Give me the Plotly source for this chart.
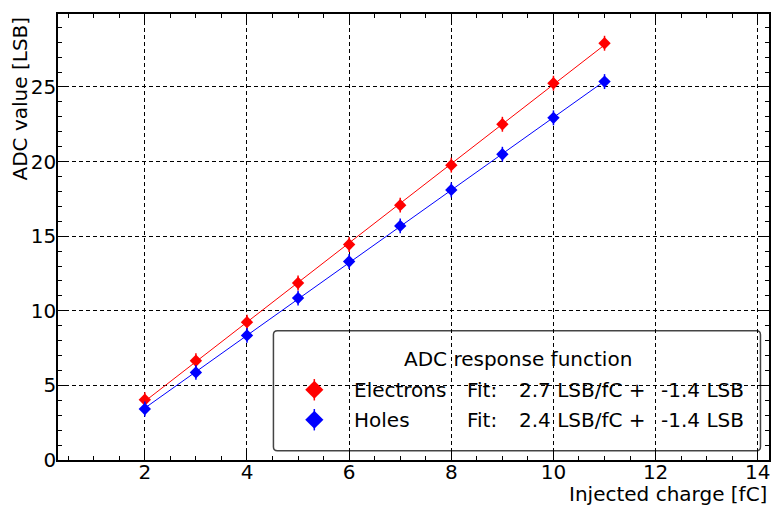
import numpy as np
import plotly.graph_objects as go

# Injected charge (fC) and measured ADC response (LSB)
charge = [2, 3, 4, 5, 6, 7, 8, 9, 10, 11]
adc_electrons = [4.04, 6.65, 9.24, 11.86, 14.44, 17.08, 19.76, 22.50, 25.25, 27.93]
adc_holes = [3.42, 5.87, 8.35, 10.85, 13.30, 15.69, 18.10, 20.49, 22.93, 25.36]
adc_err = [0.5] * len(charge)

series_names = ["Electrons", "Holes"]
series_colors = ["#ff0000", "#0000ff"]
series_values = [adc_electrons, adc_holes]

x_ticks = [2, 4, 6, 8, 10, 12, 14]
y_ticks = [0, 5, 10, 15, 20, 25]

FONT = "DejaVu Sans"
FS = 20
W, H = 774, 505
M = dict(l=58, r=3, t=14, b=45)

fig = go.Figure()

fits = []
xs = np.array(charge, dtype=float)
for name, color, vals in zip(series_names, series_colors, series_values):
    slope, intercept = np.polyfit(xs, np.array(vals), 1)
    fits.append((slope, intercept))
    xf = np.array([xs.min(), xs.max()])
    fig.add_trace(go.Scatter(
        x=xf, y=slope * xf + intercept, mode="lines",
        line=dict(color=color, width=1), showlegend=False, hoverinfo="skip",
    ))
    fig.add_trace(go.Scatter(
        x=charge, y=vals, mode="markers", name=name,
        marker=dict(symbol="diamond", size=9.5, color=color, line=dict(width=0)),
        error_y=dict(type="data", array=adc_err, color=color, thickness=1.5, width=0),
        showlegend=False,
    ))

# Legend box drawn in plot-area (paper) coordinates, above the grid, below the traces
pw = W - M["l"] - M["r"]
ph = H - M["t"] - M["b"]
bx0, bx1, by0, by1 = 0.303, 0.988, 0.021, 0.290
rx, ry = 4 / pw, 4 / ph
box_path = (
    f"M {bx0+rx},{by1} L {bx1-rx},{by1} Q {bx1},{by1} {bx1},{by1-ry} "
    f"L {bx1},{by0+ry} Q {bx1},{by0} {bx1-rx},{by0} "
    f"L {bx0+rx},{by0} Q {bx0},{by0} {bx0},{by0+ry} "
    f"L {bx0},{by1-ry} Q {bx0},{by1} {bx0+rx},{by1} Z"
)
fig.add_shape(type="path", path=box_path, xref="paper", yref="paper",
              line=dict(color="#444444", width=1.5), fillcolor="white", layer="between")

row_y = [0.1575, 0.0903]
key_x = 0.3605
for (name, color), y, (slope, intercept) in zip(zip(series_names, series_colors), row_y, fits):
    fig.add_trace(go.Scatter(
        x=[key_x], y=[y], xaxis="x2", yaxis="y2", mode="markers",
        marker=dict(symbol="diamond", size=14, color=color, line=dict(width=0)),
        error_y=dict(type="constant", value=0.024, color=color, thickness=1.5, width=0),
        showlegend=False, hoverinfo="skip",
    ))
    for xt, txt in [(0.4133, name), (0.573, "Fit:"),
                    (0.6453, f"{slope:.1f} LSB/fC +"), (0.8455, f"{intercept:.1f} LSB")]:
        fig.add_annotation(x=xt, y=y, xref="paper", yref="paper", text=txt,
                           showarrow=False, xanchor="left", yanchor="middle",
                           font=dict(family=FONT, size=FS, color="black"))

fig.add_annotation(x=0.6463, y=0.227, xref="paper", yref="paper",
                   text="ADC response function", showarrow=False,
                   xanchor="center", yanchor="middle",
                   font=dict(family=FONT, size=FS, color="black"))

# Axis titles placed at the axis ends
fig.add_annotation(x=-0.0528, y=1, xref="paper", yref="paper", text="ADC value [LSB]",
                   textangle=-90, showarrow=False, xanchor="center", yanchor="top",
                   font=dict(family=FONT, size=FS, color="black"))
fig.add_annotation(x=1, y=0, xref="paper", yref="paper", text="Injected charge [fC]",
                   showarrow=False, xanchor="right", yanchor="top", yshift=-20,
                   font=dict(family=FONT, size=FS, color="black"))

axis_common = dict(
    showline=True, linecolor="black", linewidth=1.5, mirror="ticks",
    ticks="inside", ticklen=8, tickwidth=1.2, tickcolor="black",
    showgrid=True, gridcolor="black", gridwidth=1, griddash="4px,3px",
    zeroline=False, tickfont=dict(family=FONT, size=FS, color="black"),
)
fig.update_layout(
    width=W, height=H, margin=M,
    paper_bgcolor="white", plot_bgcolor="white",
    showlegend=False,
    xaxis=dict(range=[0.3, 14.22], tickvals=x_ticks, ticklabelstandoff=-7,
               minor=dict(ticks="inside", ticklen=4, tickwidth=1, tickcolor="black", dtick=0.5,
                          showgrid=False),
               **axis_common),
    yaxis=dict(range=[0, 29.89], tickvals=y_ticks, ticklabelstandoff=-4,
               minor=dict(ticks="inside", ticklen=4, tickwidth=1, tickcolor="black", dtick=1,
                          showgrid=False),
               **axis_common),
    xaxis2=dict(overlaying="x", range=[0, 1], visible=False),
    yaxis2=dict(overlaying="y", range=[0, 1], visible=False),
)

fig.write_html("out.html")
